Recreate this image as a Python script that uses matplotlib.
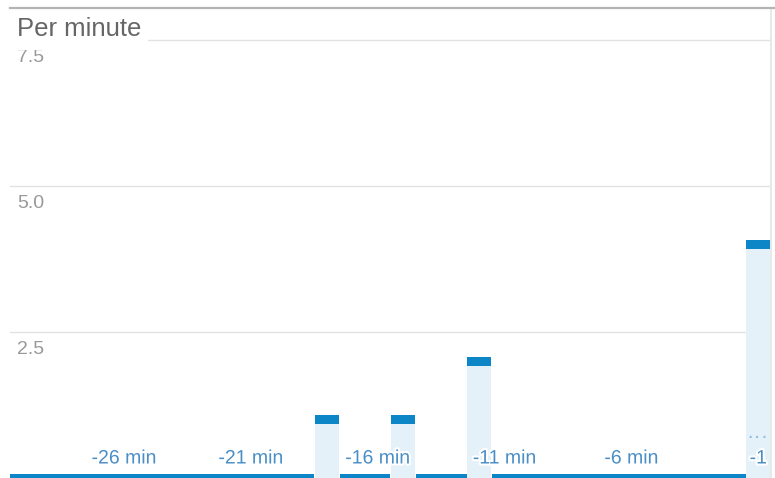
import matplotlib
matplotlib.use("Agg")
import matplotlib.pyplot as plt
import matplotlib.patheffects as pe
from matplotlib.lines import Line2D
from matplotlib.patches import Rectangle
import numpy as np

plt.rcParams['font.family'] = ['Liberation Sans', 'DejaVu Sans']

# ---- data ----
minutes = list(range(-30, 0))
events = {-18: 1, -15: 1, -12: 2, -1: 4}
values = [events.get(m, 0) for m in minutes]
xtick_pos = [-26, -21, -16, -11, -6, -1]
xtick_labels = ["-26 min", "-21 min", "-16 min", "-11 min", "-6 min", "-1"]
ytick_vals = [2.5, 5.0, 7.5]
ytick_labels = ["2.5", "5.0", "7.5"]
title = "Per minute"

W, H = 775, 478
fig = plt.figure(figsize=(W / 100, H / 100), dpi=100)
ax = fig.add_axes([10 / W, 0, (771 - 10) / W, (H - 8) / H])
ax.set_xlim(-30.5, -0.5)
ax.set_ylim(0, 470 / 58.4)

fill_c = "#e5f1f9"
cap_c = "#0c86c7"
vals = np.array(values, dtype=float)
widths = np.where(vals == 0, 1.0, 0.96)
ax.bar(minutes, vals, width=widths, color=fill_c, edgecolor="none", zorder=2)
cap_h = 9 / 58.4
ax.bar(minutes, [cap_h] * len(vals), bottom=vals - cap_h / 2, width=widths,
       color=cap_c, edgecolor="none", zorder=3)

# grid
for v in ytick_vals:
    ax.axhline(v, color="#e2e2e2", lw=1.0, zorder=1)

ax.set_xticks([])
ax.set_yticks([])
for s in ["left", "bottom", "top"]:
    ax.spines[s].set_visible(False)
ax.spines["right"].set_color("#e8e8e8")
ax.spines["right"].set_linewidth(1.5)

# top frame line
fig.add_artist(Line2D([10 / W, 1.0], [(H - 8) / H] * 2, color="#b4b4b4", lw=1.6,
                      transform=fig.transFigure))

# y labels
for v, lab in zip(ytick_vals, ytick_labels):
    ax.annotate(lab, xy=(0, v), xycoords=("axes fraction", "data"),
                xytext=(7, -17.5), textcoords="offset pixels",
                ha="left", va="center", fontsize=14, color="#999999", zorder=4)

# x labels
halo = [pe.withStroke(linewidth=3, foreground="white")]
for p, lab in zip(xtick_pos, xtick_labels):
    ax.annotate(lab, xy=(p, 0), xycoords="data", xytext=(0, 19),
                textcoords="offset pixels", ha="center", va="center",
                fontsize=14, color="#4a8ec6", zorder=5, path_effects=halo)

ax.annotate("\u00b7\u00b7\u00b7", xy=(-1, 0), xycoords="data", xytext=(-1, 40),
            textcoords="offset pixels", ha="center", va="center",
            fontsize=16, color="#93bfe2", zorder=5)

# title with white background panel
ax.add_patch(Rectangle((10 / W, (H - 50) / H), 138 / W, 41 / H,
                       transform=fig.transFigure, facecolor="white",
                       edgecolor="none", zorder=5.5))
ax.annotate(title, xy=(0, 1), xycoords="axes fraction", xytext=(7, -21),
            textcoords="offset pixels", ha="left", va="center",
            fontsize=18.5, color="#666666", zorder=6)

fig.savefig("out.png", dpi=100)
